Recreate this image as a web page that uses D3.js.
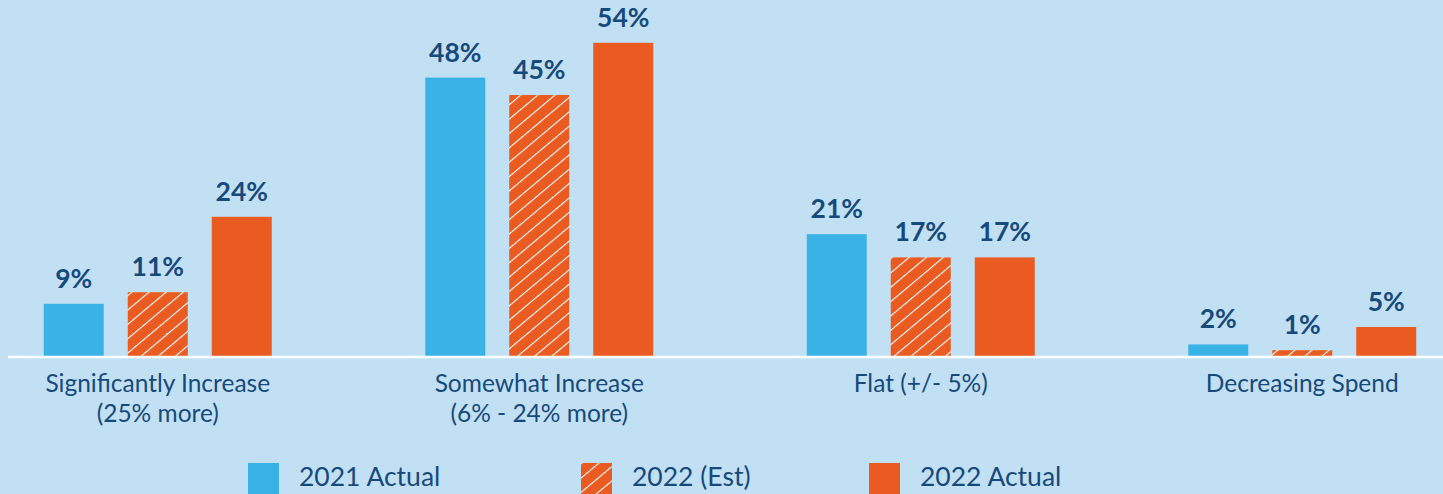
<!DOCTYPE html>
<html>
<head>
<meta charset="utf-8">
<script src="https://cdn.jsdelivr.net/npm/d3@7"></script>
<style>
  html, body { margin: 0; padding: 0; background: #c2e0f4; }
  svg { display: block; font-family: Lato, "Open Sans", sans-serif; }
</style>
</head>
<body>
<script>
// chart data
var categories = ["Significantly Increase|(25% more)", "Somewhat Increase|(6% - 24% more)", "Flat (+/- 5%)", "Decreasing Spend"];
var seriesNames = ["2021 Actual", "2022 (Est)", "2022 Actual"];
var actual2021 = [9, 48, 21, 2];
var est2022 = [11, 45, 17, 1];
var actual2022 = [24, 54, 17, 5];

var seriesValues = [actual2021, est2022, actual2022];

var createSvg = function() {
  let width = 1443, height = 494;
  let baseY = 356;
  let textColor = '#174a7c';
  let blue = '#3bb2e6', orange = '#ea5b21';

  let svg = d3.select('body')
    .append('svg')
    .attr('width', width)
    .attr('height', height);

  // hatch pattern for the estimate
  let defs = svg.append('defs');
  let pat = defs.append('pattern')
    .attr('id', 'hatch')
    .attr('patternUnits', 'userSpaceOnUse')
    .attr('width', 11)
    .attr('height', 11)
    .attr('patternTransform', 'rotate(50)');
  pat.append('rect').attr('width', 11).attr('height', 11).attr('fill', orange);
  pat.append('line')
    .attr('x1', 0).attr('y1', 0).attr('x2', 0).attr('y2', 11)
    .attr('stroke', '#fff').attr('stroke-width', 2.2);

  let fills = [blue, 'url(#hatch)', orange];

  // scales
  let x0 = d3.scaleBand()
    .domain(categories)
    .range([-33, 1493]);
  let x1 = d3.scaleBand()
    .domain(seriesNames)
    .range([-114, 114])
    .paddingInner(24 / 84);
  let y = d3.scaleLinear()
    .domain([0, 60])
    .range([baseY, baseY - 60 * 5.8]);

  let rows = [];
  categories.forEach((c, i) => {
    seriesNames.forEach((s, j) => {
      rows.push({ cat: c, series: s, j: j, value: seriesValues[j][i] });
    });
  });

  let groups = svg.append('g');

  groups.selectAll('rect.bar')
    .data(rows)
    .enter()
    .append('rect')
    .attr('class', 'bar')
    .attr('x', d => x0(d.cat) + x0.bandwidth() / 2 + x1(d.series))
    .attr('y', d => y(d.value))
    .attr('width', x1.bandwidth())
    .attr('height', d => y(0) - y(d.value))
    .attr('fill', d => fills[d.j]);

  groups.selectAll('text.val')
    .data(rows)
    .enter()
    .append('text')
    .attr('class', 'val')
    .attr('x', d => x0(d.cat) + x0.bandwidth() / 2 + x1(d.series) + x1.bandwidth() / 2)
    .attr('y', d => y(d.value) - 16)
    .attr('text-anchor', 'middle')
    .attr('fill', textColor)
    .attr('font-size', 26.5)
    .attr('font-weight', 'bold')
    .text(d => d.value + '%');

  // baseline
  svg.append('line')
    .attr('x1', 8).attr('x2', width)
    .attr('y1', baseY + 1).attr('y2', baseY + 1)
    .attr('stroke', '#fff')
    .attr('stroke-width', 2.5);

  // category labels
  let catLabels = svg.selectAll('text.cat')
    .data(categories)
    .enter()
    .append('text')
    .attr('class', 'cat')
    .attr('text-anchor', 'middle')
    .attr('fill', textColor)
    .attr('font-size', 24.5)
    .attr('transform', d => 'translate(' + (x0(d) + x0.bandwidth() / 2) + ',392)');
  catLabels.selectAll('tspan')
    .data(d => d.split('|'))
    .enter()
    .append('tspan')
    .attr('x', 0)
    .attr('dy', (d, i) => i === 0 ? 0 : 30)
    .text(d => d);

  // legend
  let legendX = [248, 581, 869];
  let legend = svg.selectAll('g.leg')
    .data(seriesNames)
    .enter()
    .append('g')
    .attr('class', 'leg')
    .attr('transform', (d, i) => 'translate(' + legendX[i] + ',463)');
  legend.append('rect')
    .attr('width', 31)
    .attr('height', 34)
    .attr('fill', (d, i) => fills[i]);
  legend.append('text')
    .attr('x', 51)
    .attr('y', 23)
    .attr('fill', textColor)
    .attr('font-size', 26.5)
    .text(d => d);
}

createSvg();
</script>
</body>
</html>
